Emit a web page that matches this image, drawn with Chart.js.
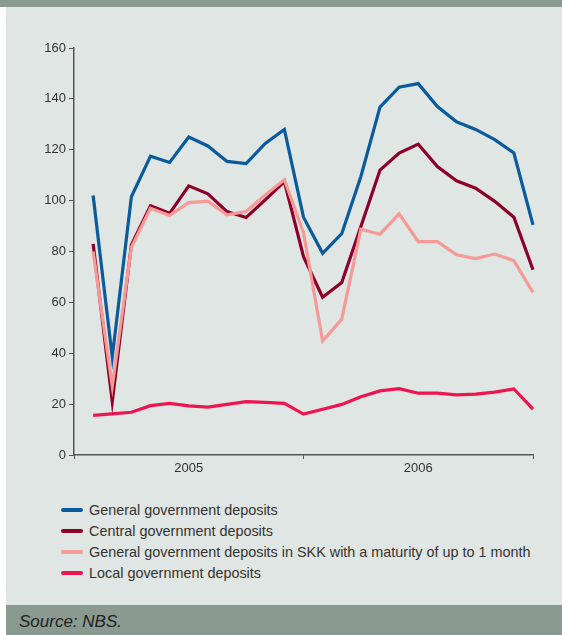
<!DOCTYPE html>
<html>
<head>
<meta charset="utf-8">
<script src="https://cdn.jsdelivr.net/npm/chart.js@4/dist/chart.umd.min.js"></script>
<style>
  html, body { margin: 0; padding: 0; background: #fff; }
  #page { position: relative; width: 562px; height: 635px; overflow: hidden; font-family: "Liberation Sans", Arial, sans-serif; }
  #topband { position: absolute; left: 0; top: 0; width: 562px; height: 7px; background: #8a9a91; }
  #panel { position: absolute; left: 6px; top: 7px; width: 556px; height: 598px; background: #e0e6e3; }
  #foot { position: absolute; left: 6px; top: 605px; width: 556px; height: 30px; background: #8a9a91; }
  #foot span { position: absolute; left: 13px; top: 7px; font-style: italic; font-size: 17px; color: #222; }
  #chartBox { position: absolute; left: 0; top: 0; width: 562px; height: 480px; }
  #legend { position: absolute; left: 61px; top: 499px; }
  .lg-row { height: 21px; display: flex; align-items: center; font-size: 14.4px; color: #333; white-space: nowrap; }
  .lg-sw { width: 22px; height: 4px; border-radius: 2px; margin-right: 6px; }
</style>
</head>
<body>
<div id="page">
  <div id="topband"></div>
  <div id="panel"></div>
  <div id="foot"><span>Source: NBS.</span></div>
  <div id="chartBox"><canvas id="cv" width="562" height="480"></canvas></div>
  <div id="legend"></div>
</div>
<script>
  // Monatswerte Jan 2005 – Dez 2006 (Mrd. SKK)
  var months = ['2005-01','2005-02','2005-03','2005-04','2005-05','2005-06','2005-07','2005-08','2005-09','2005-10','2005-11','2005-12',
                '2006-01','2006-02','2006-03','2006-04','2006-05','2006-06','2006-07','2006-08','2006-09','2006-10','2006-11','2006-12'];
  var years = ['2005', '2006'];
  var yTicks = [0, 20, 40, 60, 80, 100, 120, 140, 160];

  var generalGov = [102, 38.5, 101.5, 117.5, 115, 125, 121.5, 115.4, 114.6, 122.5, 128,  93.5,
                    79.3, 87, 109.5, 136.8, 144.6, 146, 137, 131, 128, 124, 118.7, 90.5];
  var centralGov = [83, 21, 82.6, 98, 95, 105.8, 102.7, 95.7, 93.4, 100.3, 107.5, 78,
                    62, 67.8, 89.8, 112, 118.7, 122.2, 113.4, 107.8, 104.9, 99.7, 93.5, 72.8];
  var skkShort   = [80, 27, 81.7, 97, 94.2, 99.2, 99.8, 94.4, 95.7, 102.2, 108.2, 87.3,
                    44.8, 53.4, 88.8, 86.8, 94.8, 83.9, 83.9, 78.7, 77.2, 79, 76.4, 63.9];
  var localGov   = [15.6, 16.2, 16.8, 19.4, 20.3, 19.3, 18.8, 19.9, 21, 20.7, 20.3, 16.1,
                    18, 19.9, 22.9, 25.2, 26.1, 24.3, 24.3, 23.6, 23.9, 24.7, 26, 18];

  var labels = [
    'General government deposits',
    'Central government deposits',
    'General government deposits in SKK with a maturity of up to 1 month',
    'Local government deposits'
  ];
  var colors = ['#0a5a9c', '#8c0029', '#f59a97', '#ee1450'];

  function pts(arr) { return arr.map(function (v, i) { return { x: i + 1, y: v }; }); }

  function ds(i, arr, order) {
    return { label: labels[i], data: pts(arr), borderColor: colors[i], backgroundColor: colors[i],
      borderWidth: 3.2, pointRadius: 0, tension: 0, fill: false, order: order, clip: false };
  }

  var axisCol = '#555';
  var chart = new Chart(document.getElementById('cv').getContext('2d'), {
    type: 'line',
    data: { datasets: [ds(0, generalGov, 0), ds(1, centralGov, 2), ds(2, skkShort, 1), ds(3, localGov, 3)] },
    options: {
      responsive: false, animation: false,
      layout: { padding: { left: 0, top: 48, right: 29, bottom: 0 } },
      plugins: { legend: { display: false }, tooltip: { enabled: false } },
      scales: {
        x: {
          type: 'linear', min: 0, max: months.length,
          afterBuildTicks: function (s) { s.ticks = [0, 6, 12, 18, 24].map(function (v) { return { value: v }; }); },
          afterFit: function (s) { s.height = 25; },
          ticks: {
            autoSkip: false, maxRotation: 0, padding: 2, color: '#333', font: { size: 13, family: '"Liberation Sans", Arial' },
            callback: function (v) { return v % 12 === 6 ? years[(v - 6) / 12] : ''; }
          },
          grid: { drawOnChartArea: false, tickLength: 4, tickColor: function (c) { return c.tick && c.tick.value % 12 === 0 ? axisCol : 'rgba(0,0,0,0)'; } },
          border: { color: axisCol, width: 1.5 }
        },
        y: {
          min: 0, max: 160,
          afterBuildTicks: function (s) { s.ticks = yTicks.map(function (v) { return { value: v }; }); },
          afterFit: function (s) { s.width = 74; },
          ticks: { padding: 3, color: '#333', font: { size: 13, family: '"Liberation Sans", Arial' } },
          grid: { drawOnChartArea: false, tickLength: 5, tickColor: axisCol },
          border: { color: axisCol, width: 1.5 }
        }
      }
    }
  });

  // Legende als HTML, eine Zeile je Reihe
  var lg = document.getElementById('legend');
  chart.data.datasets.forEach(function (d) {
    lg.innerHTML += '<div class="lg-row"><span class="lg-sw" style="background:' + d.borderColor + '"></span>' + d.label + '</div>';
  });
</script>
</body>
</html>
